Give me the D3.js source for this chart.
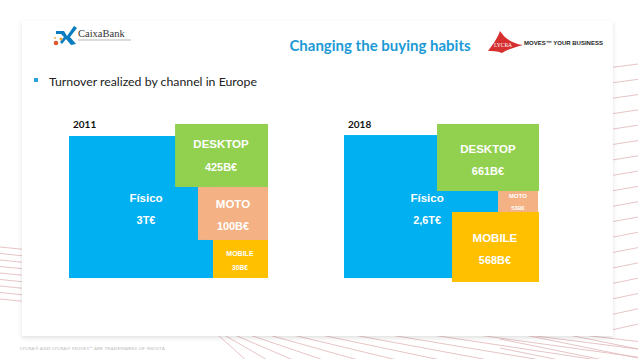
<!DOCTYPE html>
<html>
<head>
<meta charset="utf-8">
<script src="https://cdn.jsdelivr.net/npm/d3@7"></script>
<style>
  body { margin: 0; background: #fff; }
  svg { display: block; }
</style>
</head>
<body>
<div id="chart"></div>
<script>
// channel data
var channels = ["Físico", "DESKTOP", "MOTO", "MOBILE"];
var years = ["2011", "2018"];
var values2011 = ["3T€", "425B€", "100B€", "30B€"];
var values2018 = ["2,6T€", "661B€", "53B€", "568B€"];
var colors = ["#00b0f0", "#92d050", "#f4b183", "#ffc000"];

// box layout inside each panel, in 0..1 of the panel (x0,x1,y0,y1,label x,label y,font)
var layout2011 = [
  [0, 0.724, 0.078, 1, 0.387, 0.545, 11.5],
  [0.533, 1, 0, 0.409, 0.764, 0.20, 11.5],
  [0.648, 1, 0.409, 0.753, 0.824, 0.584, 11.5],
  [0.724, 1, 0.753, 1, 0.859, 0.883, 7]
];
var layout2018 = [
  [0, 0.79, 0.07, 0.975, 0.426, 0.532, 11.5],
  [0.477, 1, 0, 0.424, 0.738, 0.222, 11.5],
  [0.79, 0.995, 0.424, 0.56, 0.892, 0.49, 6],
  [0.554, 1, 0.557, 1, 0.774, 0.785, 11.5]
];

var width = 638, height = 359;
var svg = d3.select("#chart").append("svg")
  .attr("width", width).attr("height", height);

var defs = svg.append("defs");
var f = defs.append("filter").attr("id", "shadow").attr("x", "-5%").attr("y", "-5%").attr("width", "110%").attr("height", "115%");
f.append("feDropShadow").attr("dx", 0).attr("dy", 2).attr("stdDeviation", 2).attr("flood-color", "#000").attr("flood-opacity", 0.12);

// decorative pink lines around the slide
var deco = svg.append("g").attr("stroke", "#d9a3a6").attr("stroke-width", 0.8).attr("fill", "none").attr("opacity", 0.8);
d3.range(66, 340, 15.5).forEach(function(y, i) {
  deco.append("line").attr("x1", 600).attr("y1", y + 3).attr("x2", 638).attr("y2", y - 2 - i * 0.2);
});
d3.range(0, 9).forEach(function(i) {
  var y = 250 + i * 6.5;
  deco.append("line").attr("x1", 0).attr("y1", y - 3).attr("x2", 30).attr("y2", y);
});
d3.range(0, 14).forEach(function(i) {
  var x0 = 218 + i * i * 2.2 + i * 4;
  var slope = 0.9 / (1 + i * 0.55);
  deco.append("line").attr("x1", x0).attr("y1", 335).attr("x2", x0 + 40 / slope).attr("y2", 335 + 40);
});
d3.range(0, 4).forEach(function(i) {
  var y = 335 + i * 9;
  deco.append("line").attr("x1", 500).attr("y1", y - 14).attr("x2", 638).attr("y2", y + 14);
});

// white slide panel
svg.append("rect").attr("x", 22).attr("y", 21).attr("width", 591).attr("height", 315)
  .attr("fill", "#fff").attr("filter", "url(#shadow)");

svg.append("text").attr("x", 20).attr("y", 350)
  .attr("font-family", "Lato").attr("font-size", 4.6).attr("fill", "#b8b8b8")
  .attr("letter-spacing", 0.2)
  .text("LYCRA® AND LYCRA® MOVES™ ARE TRADEMARKS OF INVISTA");

// CaixaBank logo
var cx = svg.append("g").attr("transform", "translate(52,26)");
cx.append("path").attr("d", "M4,5 L12,5 L15,10 L22,0 L25,2 L18,11 L24,18 L19,19 L14,13 L10,18 L8,16 L12,11 L9,8 L4,8 Z").attr("fill", "#0a7cc1");
cx.append("circle").attr("cx", 4).attr("cy", 17).attr("r", 2.3).attr("fill", "#e4572e");
cx.append("circle").attr("cx", 9).attr("cy", 13).attr("r", 1.5).attr("fill", "#f0a030");
cx.append("circle").attr("cx", 3).attr("cy", 12).attr("r", 1).attr("fill", "#f3b04a");
cx.append("text").attr("x", 26).attr("y", 11).attr("font-family", "Liberation Serif").attr("font-size", 10.5).attr("fill", "#333").text("CaixaBank");
cx.append("line").attr("x1", 26).attr("x2", 79).attr("y1", 14).attr("y2", 14).attr("stroke", "#888").attr("stroke-width", 0.6);

// Title
svg.append("text").attr("x", 380).attr("y", 51).attr("text-anchor", "middle")
  .attr("font-family", "Lato").attr("font-weight", "bold").attr("font-size", 15).attr("fill", "#1b9ad6")
  .text("Changing the buying habits");

// LYCRA logo
var ly = svg.append("g").attr("transform", "translate(488,31)");
ly.append("path").attr("d", "M0,20 C6,12 10,6 12,0 C16,6 22,12 35,14 C28,16 20,18 14,22 C9,20 4,20 0,20 Z").attr("fill", "#d62f2f");
ly.append("text").attr("x", 15).attr("y", 16).attr("text-anchor", "middle").attr("font-family", "Liberation Serif").attr("font-size", 5.5).attr("fill", "#fff").text("LYCRA");
ly.append("text").attr("x", 36).attr("y", 13.5).attr("font-family", "Liberation Sans").attr("font-weight", "bold").attr("font-size", 6).attr("fill", "#222").text("MOVES™ YOUR BUSINESS");

// bullet + subtitle
svg.append("rect").attr("x", 34).attr("y", 78).attr("width", 4).attr("height", 4).attr("fill", "#29a3dc");
svg.append("text").attr("x", 49).attr("y", 85.5)
  .attr("font-family", "Lato").attr("font-size", 12.3).attr("fill", "#222")
  .text("Turnover realized by channel in Europe");

// panels
var panels = [
  { year: years[0], values: values2011, layout: layout2011, x: [69, 268], y: [124, 278] },
  { year: years[1], values: values2018, layout: layout2018, x: [344, 539], y: [124, 282] }
];

panels.forEach(function(p) {
  var x = d3.scaleLinear().domain([0, 1]).range(p.x);
  var y = d3.scaleLinear().domain([0, 1]).range(p.y);
  var g = svg.append("g");

  g.append("text").attr("x", x(0) + 4).attr("y", y(0) + 4)
    .attr("font-family", "Lato").attr("font-weight", "bold").attr("font-size", 10).attr("fill", "#111")
    .text(p.year);

  var boxes = channels.map(function(c, i) {
    return { name: c, value: p.values[i], color: colors[i], l: p.layout[i] };
  });

  g.selectAll(".box").data(boxes).enter().append("rect")
    .attr("class", "box")
    .attr("x", function(d) { return x(d.l[0]); })
    .attr("y", function(d) { return y(d.l[2]); })
    .attr("width", function(d) { return x(d.l[1]) - x(d.l[0]); })
    .attr("height", function(d) { return y(d.l[3]) - y(d.l[2]); })
    .attr("fill", function(d) { return d.color; });

  var lbl = g.selectAll(".lbl").data(boxes).enter().append("g").attr("class", "lbl")
    .attr("transform", function(d) { return "translate(" + x(d.l[4]) + "," + y(d.l[5]) + ")"; })
    .attr("font-family", "Liberation Sans").attr("font-weight", "bold").attr("fill", "#fff")
    .attr("text-anchor", "middle");
  lbl.append("text")
    .attr("y", function(d) { return -d.l[6] * 0.9 + d.l[6] * 0.35; })
    .attr("font-size", function(d) { return d.l[6]; })
    .text(function(d) { return d.name; });
  lbl.append("text")
    .attr("y", function(d) { return d.l[6] * 1.05 + d.l[6] * 0.35; })
    .attr("font-size", function(d) { return d.l[6] * 0.95; })
    .text(function(d) { return d.value; });
});
</script>
</body>
</html>
